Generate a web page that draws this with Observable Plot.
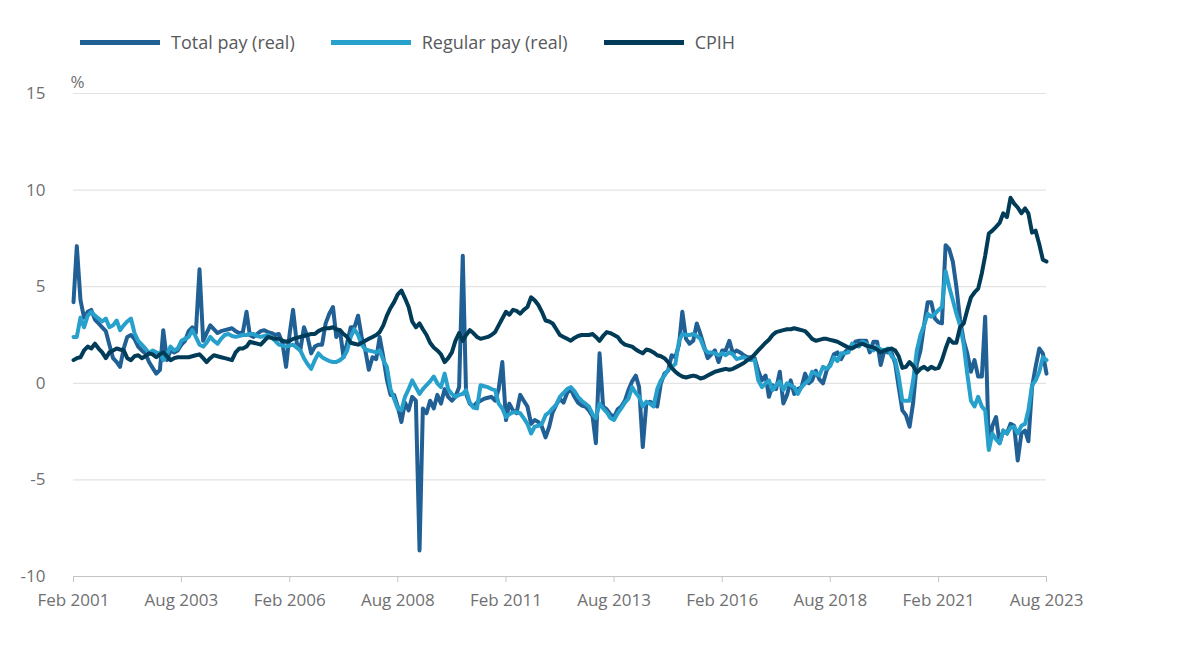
<!DOCTYPE html>
<html><head><meta charset="utf-8">
<script src="https://cdn.jsdelivr.net/npm/d3@7"></script>
<script src="https://cdn.jsdelivr.net/npm/@observablehq/plot@0.6"></script>
<style>
body{margin:0;background:#fff;font-family:"Open Sans",sans-serif;}
#legend{display:flex;gap:36px;padding:28px 0 0 80px;height:36px;box-sizing:content-box;}
.item{display:flex;align-items:center;font-size:18px;line-height:28px;height:28px;color:#58595b;}
.sw{width:80px;height:5px;margin-right:11px;}
#chart svg{display:block;}
</style></head><body>
<div id="legend"></div><div id="chart"></div>
<script>
const startMonth = "2001-02";
const seriesNames = ["Total pay (real)", "Regular pay (real)", "CPIH"];
const seriesColors = ["#206095", "#27a0cc", "#003c57"];
const yTicks = [-10, -5, 0, 5, 10, 15];
const xTickLabels = ["Feb 2001","Aug 2003","Feb 2006","Aug 2008","Feb 2011","Aug 2013","Feb 2016","Aug 2018","Feb 2021","Aug 2023"];

const totalPay = [
 4.2, 7.1, 4.3, 3.4, 3.7, 3.8, 3.3, 3.1, 2.9, 2.7,
 2.0, 1.3, 1.1, 0.85, 1.8, 2.4, 2.5, 2.3, 1.9, 1.7,
 1.55, 1.1, 0.8, 0.5, 0.7, 2.75, 1.2, 1.7, 1.6, 1.7,
 2.0, 2.2, 2.7, 2.9, 2.6, 5.9, 2.2, 2.6, 3.0, 2.8,
 2.6, 2.7, 2.75, 2.8, 2.85, 2.7, 2.6, 2.65, 3.7, 2.5,
 2.4, 2.55, 2.7, 2.75, 2.65, 2.6, 2.5, 2.55, 2.1, 0.85,
 2.6, 3.8, 2.1, 1.7, 2.9, 2.4, 1.55, 1.9, 2.0, 2.0,
 3.1, 3.6, 3.95, 2.4, 2.75, 1.35, 2.1, 2.9, 2.9, 3.5,
 2.4, 1.7, 0.7, 1.35, 1.25, 2.4, 1.35, 0.2, -0.6, -0.6,
 -1.2, -2.0, -1.0, -1.4, -0.7, -0.9, -8.65, -1.3, -1.55, -0.9,
 -1.3, -0.6, -1.05, -0.3, -0.7, -0.9, -0.7, -0.2, 6.6, -0.55,
 -1.05, -1.2, -1.0, -0.9, -0.8, -0.75, -0.7, -0.9, -0.3, 1.1,
 -1.9, -1.05, -1.4, -1.55, -0.6, -0.9, -1.2, -2.1, -1.9, -2.0,
 -2.25, -2.8, -2.25, -1.5, -1.1, -0.8, -1.0, -0.5, -0.3, -0.7,
 -1.0, -1.15, -1.2, -1.4, -1.7, -3.1, 1.55, -1.2, -1.35, -1.6,
 -1.75, -1.35, -1.2, -0.9, -0.35, 0.1, 0.4, -0.2, -3.3, -1.05,
 -0.95, -1.05, -1.2, 0.0, 0.5, 0.65, 1.45, 1.35, 2.0, 3.7,
 2.3, 2.05, 2.2, 3.1, 2.55, 1.9, 1.3, 1.5, 1.7, 1.1,
 1.7, 1.7, 2.2, 1.55, 1.7, 1.6, 1.45, 1.35, 1.35, 1.3,
 0.65, 0.15, 0.4, -0.7, -0.1, -0.3, 0.6, -1.05, -0.6, 0.15,
 -0.55, -0.3, -0.2, 0.5, 0.0, 0.15, 0.65, 0.2, 0.0, 0.65,
 1.0, 1.5, 1.6, 1.25, 1.6, 1.8, 1.9, 2.15, 2.2, 2.2,
 2.2, 1.6, 2.15, 2.15, 0.95, 1.7, 1.6, 1.6, 1.0, -0.2,
 -1.4, -1.65, -2.25, -1.0, 1.0, 1.7, 3.0, 4.2, 4.2, 3.35,
 3.15, 3.1, 7.15, 6.95, 6.3, 5.0, 3.3, 2.2, 1.55, 0.6,
 1.2, 0.35, 0.35, 3.45, -3.3, -2.2, -1.75, -3.1, -2.45, -2.6,
 -2.1, -2.2, -4.0, -2.6, -2.45, -3.0, -0.2, 0.85, 1.8, 1.55,
 0.5
];

const regularPay = [
 2.4, 2.4, 3.4, 2.9, 3.5, 3.7, 3.5, 3.35, 3.2, 3.35,
 2.9, 3.0, 3.25, 2.75, 3.0, 3.2, 3.35, 2.6, 2.2, 2.0,
 1.8, 1.55, 1.7, 1.6, 1.55, 1.2, 1.5, 1.9, 1.7, 1.8,
 2.2, 2.3, 2.4, 2.75, 2.4, 2.0, 1.9, 2.1, 2.4, 2.2,
 2.05, 2.3, 2.5, 2.55, 2.45, 2.4, 2.45, 2.5, 2.5, 2.55,
 2.55, 2.45, 2.4, 2.45, 2.5, 2.35, 2.2, 2.0, 1.95, 1.9,
 1.95, 2.0, 1.85, 1.7, 1.3, 1.0, 0.75, 1.2, 1.55, 1.35,
 1.25, 1.15, 1.1, 1.1, 1.2, 1.35, 1.7, 2.4, 2.8, 2.5,
 2.0, 1.75, 1.7, 1.65, 1.6, 1.7, 1.2, 0.85, -0.3, -0.8,
 -1.3, -1.4, -0.7, -0.3, 0.15, -0.2, -0.55, -0.3, -0.1, 0.1,
 0.35, 0.0, -0.2, 0.5, -0.3, -0.55, -0.7, -0.6, -0.55, -0.35,
 -1.0, -1.25, -1.3, -0.1, -0.15, -0.2, -0.3, -0.35, -1.05, -1.3,
 -1.75, -1.6, -1.5, -1.5, -1.55, -1.8, -2.1, -2.6, -2.25, -2.2,
 -2.1, -1.65, -1.5, -1.3, -1.1, -0.7, -0.5, -0.3, -0.2, -0.4,
 -0.7, -0.9, -1.05, -1.2, -1.6, -1.8, -1.05, -1.3, -1.5, -1.8,
 -1.9, -1.55, -1.3, -1.0, -0.8, -0.2, -0.5, -0.7, -1.2, -0.95,
 -1.05, -1.2, -0.3, 0.15, 0.4, 0.7, 0.85, 1.0, 2.2, 2.55,
 2.5, 2.5, 2.55, 2.45, 2.3, 1.8, 1.6, 1.6, 1.55, 1.45,
 1.55, 1.45, 1.6, 1.5, 1.25, 1.3, 1.35, 1.25, 1.2, 1.2,
 0.15, -0.2, 0.0, 0.15, -0.35, -0.1, 0.1, -0.35, 0.0, -0.1,
 -0.2, -0.55, -0.2, 0.0, 0.15, 0.6, 0.5, 0.4, 0.85, 0.75,
 0.9, 1.35, 1.15, 1.55, 1.55, 1.6, 2.05, 1.95, 1.9, 2.15,
 2.05, 1.85, 1.7, 1.9, 1.75, 1.7, 1.8, 1.4, 1.2, 0.35,
 -0.9, -0.9, -0.9, 0.15, 1.7, 2.5, 3.0, 3.6, 3.45, 3.6,
 3.8, 3.95, 5.8, 5.0, 4.3, 3.6, 3.0, 2.0, 0.5, -0.9,
 -1.2, -0.7, -1.2, -1.4, -3.45, -2.6, -2.9, -3.1, -2.45, -2.6,
 -2.3, -2.25, -2.6, -2.2, -2.1, -1.4, -0.1, 0.15, 0.6, 1.35,
 1.2
];

const cpih = [
 1.2, 1.3, 1.35, 1.7, 1.9, 1.8, 2.05, 1.8, 1.6, 1.3,
 1.6, 1.7, 1.8, 1.75, 1.7, 1.3, 1.2, 1.4, 1.45, 1.3,
 1.4, 1.55, 1.5, 1.35, 1.5, 1.6, 1.4, 1.2, 1.3, 1.35,
 1.35, 1.35, 1.35, 1.4, 1.45, 1.5, 1.3, 1.1, 1.3, 1.45,
 1.4, 1.35, 1.3, 1.25, 1.2, 1.6, 1.8, 1.8, 1.9, 2.15,
 2.1, 2.05, 2.0, 2.2, 2.4, 2.35, 2.3, 2.3, 2.2, 2.15,
 2.2, 2.3, 2.35, 2.4, 2.45, 2.5, 2.55, 2.55, 2.7, 2.8,
 2.85, 2.85, 2.9, 2.8, 2.75, 2.55, 2.4, 2.1, 2.05, 2.0,
 2.1, 2.2, 2.3, 2.4, 2.5, 2.65, 3.0, 3.5, 3.9, 4.2,
 4.6, 4.8, 4.4, 3.95, 3.2, 2.9, 3.1, 2.8, 2.5, 2.1,
 1.85, 1.7, 1.5, 1.1, 1.3, 1.6, 2.2, 2.6, 2.2, 2.5,
 2.75, 2.6, 2.4, 2.3, 2.35, 2.4, 2.5, 2.65, 3.0, 3.35,
 3.7, 3.55, 3.8, 3.75, 3.6, 3.8, 3.95, 4.45, 4.3, 4.05,
 3.7, 3.25, 3.2, 3.1, 2.8, 2.5, 2.4, 2.3, 2.2, 2.35,
 2.45, 2.5, 2.5, 2.5, 2.55, 2.4, 2.2, 2.45, 2.65, 2.6,
 2.5, 2.4, 2.15, 2.0, 1.95, 1.9, 1.75, 1.65, 1.55, 1.75,
 1.7, 1.6, 1.45, 1.4, 1.3, 1.1, 0.8, 0.6, 0.45, 0.35,
 0.3, 0.35, 0.4, 0.35, 0.25, 0.3, 0.4, 0.5, 0.6, 0.65,
 0.7, 0.75, 0.7, 0.75, 0.85, 0.95, 1.05, 1.2, 1.3, 1.5,
 1.7, 1.9, 2.1, 2.25, 2.5, 2.65, 2.7, 2.75, 2.8, 2.8,
 2.85, 2.8, 2.75, 2.7, 2.5, 2.3, 2.2, 2.25, 2.3, 2.3,
 2.25, 2.2, 2.15, 2.05, 1.95, 1.85, 1.8, 1.9, 2.0, 2.05,
 1.95, 1.9, 1.85, 1.75, 1.6, 1.7, 1.75, 1.8, 1.7, 1.4,
 0.8, 0.85, 1.1, 0.9, 0.55, 0.75, 0.85, 0.7, 0.85, 0.75,
 0.8, 1.2, 1.8, 2.3, 2.1, 2.1, 2.9, 3.1, 3.8, 4.45,
 4.7, 4.9, 5.7, 6.6, 7.75, 7.9, 8.1, 8.3, 8.8, 8.6,
 9.6, 9.3, 9.1, 8.8, 9.05, 8.8, 7.8, 7.9, 7.2, 6.4,
 6.3
];

// legend
const legend = document.getElementById("legend");
seriesNames.forEach((n, i) => {
  const it = document.createElement("div");
  it.className = "item";
  it.innerHTML = `<span class="sw" style="background:${seriesColors[i]}"></span><span>${n}</span>`;
  legend.appendChild(it);
});

const start = d3.utcParse("%Y-%m")(startMonth);
const rows = [];
[totalPay, regularPay, cpih].forEach((arr, s) =>
  arr.forEach((v, i) => rows.push({date: d3.utcMonth.offset(start, i), value: v, series: seriesNames[s]})));
const parseTick = d3.utcParse("%b %Y");
const xTicks = xTickLabels.map(parseTick);

const chart = Plot.plot({
  width: 1200,
  height: 583,
  marginLeft: 73,
  marginRight: 154,
  marginTop: 29,
  marginBottom: 71,
  style: {fontFamily: "'Open Sans', sans-serif", fontSize: "17px", color: "#707071", background: "#fff", overflow: "visible"},
  x: {type: "utc", domain: [xTicks[0], xTicks[xTicks.length - 1]]},
  y: {domain: [-10, 15]},
  color: {domain: seriesNames, range: seriesColors},
  marks: [
    Plot.ruleY(yTicks.filter(t => t > -10), {stroke: "#e3e3e3", strokeWidth: 1.2}),
    Plot.ruleY([-10], {stroke: "#c4c4c4", strokeWidth: 1.2}),
    Plot.axisY(yTicks, {tickSize: 0, tickPadding: 28, label: null, fill: "#707071", fontSize: 17, tickFormat: d => String(d)}),
    Plot.axisX(xTicks, {tickFormat: d3.utcFormat("%b %Y"), tickSize: 6, tickPadding: 11, label: null, stroke: "#c4c4c4", fill: "#707071", fontSize: 17}),
    Plot.lineY(rows, {x: "date", y: "value", z: "series", stroke: "series", strokeWidth: 4, strokeLinejoin: "round"}),
    Plot.text(["%"], {frameAnchor: "top-left", text: d => d, dx: -3, dy: -6, textAnchor: "start", lineAnchor: "bottom", fill: "#707071", fontSize: 17})
  ]
});
document.getElementById("chart").appendChild(chart);
</script>
</body></html>
